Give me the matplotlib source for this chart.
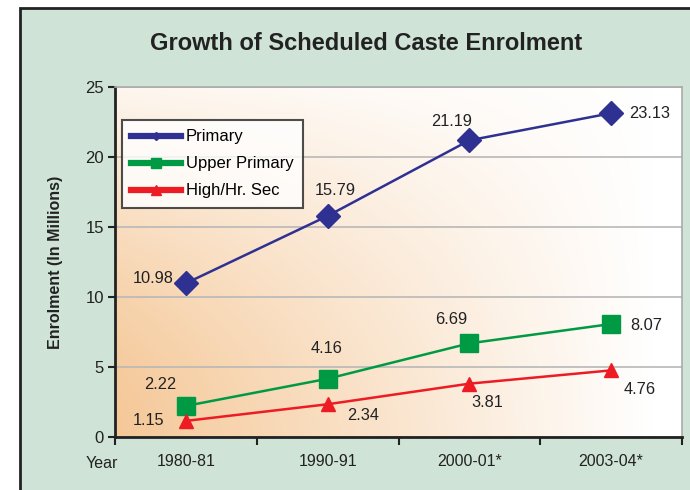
import numpy as np
import matplotlib
matplotlib.use("Agg")
import matplotlib.pyplot as plt
from matplotlib.patches import Rectangle
from matplotlib.lines import Line2D

plt.rcParams['font.family'] = ['Liberation Sans', 'DejaVu Sans']

years = ["1980-81", "1990-91", "2000-01*", "2003-04*"]
primary = [10.98, 15.79, 21.19, 23.13]
upper_primary = [2.22, 4.16, 6.69, 8.07]
high_sec = [1.15, 2.34, 3.81, 4.76]
series_names = ["Primary", "Upper Primary", "High/Hr. Sec"]
y_ticks = [0, 5, 10, 15, 20, 25]

# label offsets in pixels (style)
off_primary = [(-33, 5), (8, 25), (-18, 19), (39, 0)]
off_upper = [(-26, 21), (-1, 30), (-18, 24), (35, -1)]
off_high = [(-37, 0), (35, -11), (18, -19), (29, -19)]

W, H = 690, 490
fig = plt.figure(figsize=(W / 100, H / 100), dpi=100)
fig.patch.set_facecolor('white')

# outer green frame
frame = Rectangle((20 / W, -0.05), 1.1, 1 - 8 / H + 0.05,
                  transform=fig.transFigure, facecolor='#cfe3d6',
                  edgecolor='#222222', linewidth=2.0, zorder=-10)
fig.add_artist(frame)

left, right, top, bottom = 115, 682, 87, 437
ax = fig.add_axes([left / W, 1 - bottom / H, (right - left) / W, (bottom - top) / H])
ax.set_facecolor('white')

# gradient background
nx, ny = 300, 200
u = np.linspace(0, 1, nx)[None, :]
v = np.linspace(1, 0, ny)[:, None]
fx = np.clip(u / 0.95, 0, 1)
fy = 0.85 * v ** 1.6
t = 1 - (1 - fx) * (1 - fy)
orange = np.array([0xf5, 0xc8, 0x98]) / 255.0
white = np.array([1.0, 1.0, 1.0])
img = orange[None, None, :] * (1 - t[..., None]) + white[None, None, :] * t[..., None]
ax.imshow(img, extent=[0, 1, 0, 1], transform=ax.transAxes, aspect='auto', zorder=0)

x = np.arange(len(years))
c_p, c_u, c_h = '#2e3192', '#009a44', '#ed1c24'
ax.plot(x, primary, color=c_p, lw=1.8, marker='D', ms=12, zorder=3)
ax.plot(x, upper_primary, color=c_u, lw=1.8, marker='s', ms=12.5, zorder=3)
ax.plot(x, high_sec, color=c_h, lw=1.8, marker='^', ms=10, zorder=3)

for vals, offs in [(primary, off_primary), (upper_primary, off_upper), (high_sec, off_high)]:
    for xi, val, off in zip(x, vals, offs):
        ax.annotate(f"{val:.2f}", (xi, val), xytext=off, textcoords='offset pixels',
                    ha='center', va='center', fontsize=11.8, color='#222222', zorder=4)

ax.set_xlim(-0.5, len(years) - 0.5)
ax.set_ylim(0, 25)
ax.set_yticks(y_ticks)
ax.set_yticklabels([str(t_) for t_ in y_ticks], fontsize=12, color='#222222')
ax.yaxis.grid(True, color='#b8b8b8', lw=1.2, zorder=1)
ax.set_axisbelow(True)

ax.set_xticks(np.arange(len(years) + 1) - 0.5)
ax.set_xticklabels([])
ax.set_xticks(x, minor=True)
ax.set_xticklabels(years, minor=True, fontsize=11.5, color='#222222')
ax.tick_params(axis='x', which='minor', length=0, pad=12)
ax.tick_params(axis='x', which='major', direction='out', length=6, width=1.5, color='#222222')
ax.tick_params(axis='y', direction='out', length=5, width=1.5, color='#222222', pad=3)

for s in ['left', 'bottom']:
    ax.spines[s].set_color('#222222')
    ax.spines[s].set_linewidth(2)
for s in ['top', 'right']:
    ax.spines[s].set_color('#aaaaaa')
    ax.spines[s].set_linewidth(1.2)

ax.set_ylabel("Enrolment (In Millions)", fontsize=11.5, fontweight='bold', color='#222222', labelpad=16)
fig.text(102 / W, 1 - 463 / H, "Year", ha='center', va='center', fontsize=11.5, color='#222222')
fig.text(366 / W, 1 - 43 / H, "Growth of Scheduled Caste Enrolment", ha='center', va='center',
         fontsize=17, fontweight='bold', color='#222222')

handles = [Line2D([0], [0], color=c_p, lw=4.5, marker='D', ms=4),
           Line2D([0], [0], color=c_u, lw=4.5, marker='s', ms=7),
           Line2D([0], [0], color=c_h, lw=4.5, marker='^', ms=7)]
leg = ax.legend(handles, series_names, loc='upper left', bbox_to_anchor=(0.012, 0.905),
                fontsize=12, frameon=True, fancybox=False, edgecolor='#222222',
                handlelength=3.0, labelspacing=0.72, borderpad=0.55, handletextpad=0.3,
                borderaxespad=0)
leg.get_frame().set_linewidth(1.5)
leg.get_frame().set_facecolor('white')
leg.set_zorder(5)

fig.savefig("out.png", dpi=100)
